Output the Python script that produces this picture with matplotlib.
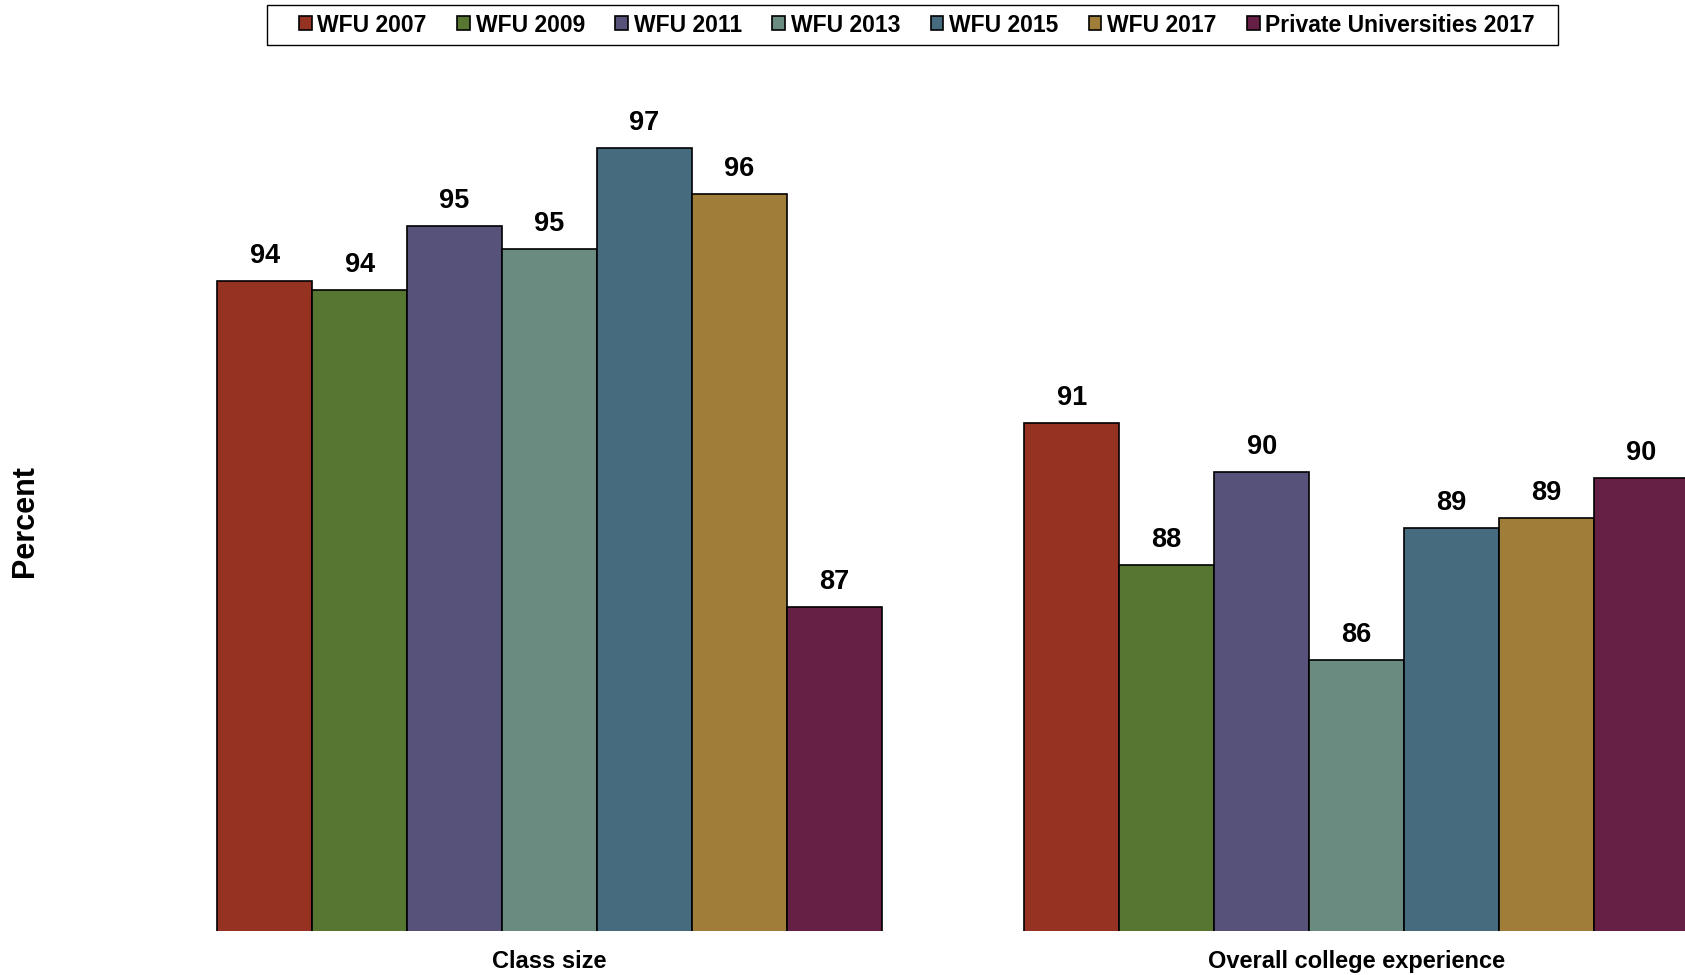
import matplotlib
matplotlib.use('Agg')
import matplotlib.pyplot as plt
from matplotlib.patches import Rectangle
import numpy as np

plt.rcParams['font.family'] = ['Liberation Sans', 'DejaVu Sans']
plt.rcParams['font.weight'] = 'bold'

categories = ['Class size', 'Overall college experience']
series = ['WFU 2007', 'WFU 2009', 'WFU 2011', 'WFU 2013', 'WFU 2015',
          'WFU 2017', 'Private Universities 2017']
colors = ['#963222', '#577632', '#57527A', '#6A8B7F', '#466A7E',
          '#A07E3A', '#662045']

# percent per series: [class size, overall college experience]
wfu_2007 = [94.07, 91.0]
wfu_2009 = [93.88, 87.93]
wfu_2011 = [95.26, 89.93]
wfu_2013 = [94.77, 85.86]
wfu_2015 = [96.95, 88.72]
wfu_2017 = [95.95, 88.93]
private_2017 = [87.02, 89.81]
values = [wfu_2007, wfu_2009, wfu_2011, wfu_2013, wfu_2015, wfu_2017, private_2017]

W, H = 1685, 975
fig = plt.figure(figsize=(W / 100, H / 100), dpi=100)
ax = fig.add_axes([0.0866, 0.0451, 0.958, 0.9477])

x = np.arange(len(categories))
n = len(series)
width = 1 / (n + 1.5)  # Excel style gap width of 150%

for i, (name, vals, c) in enumerate(zip(series, values, colors)):
    offset = (i - (n - 1) / 2) * width
    rects = ax.bar(x + offset, vals, width, bottom=0, color=c,
                   edgecolor='black', linewidth=1.2, label=name)
    for rect, v in zip(rects, vals):
        ax.annotate('{:.0f}'.format(v),
                    xy=(rect.get_x() + rect.get_width() / 2, rect.get_height()),
                    xytext=(0, 13), textcoords='offset points',
                    ha='center', va='baseline', fontsize=19.5, fontweight='bold')

ax.set_xlim(-0.5, 1.5)
ax.set_ylim(80, 100)
ax.set_xticks(x)
ax.set_xticklabels(categories, fontsize=17, fontweight='bold')
ax.tick_params(axis='x', length=0, pad=13.5)
ax.set_yticks([])
for s in ax.spines.values():
    s.set_visible(False)

fig.text(25 / W, 1 - 521 / H, 'Percent', rotation=90, ha='center',
         va='center', fontsize=22, fontweight='bold')

# legend entries without frame, box drawn separately (wider padding at sides)
leg = fig.legend(loc='center', bbox_to_anchor=(917 / W, 1 - 25 / H),
                 ncol=n, fontsize=16.5, frameon=False,
                 handlelength=0.55, handleheight=0.55, handletextpad=0.25,
                 columnspacing=1.33, borderpad=0.4, borderaxespad=0)
for t in leg.get_texts():
    t.set_fontweight('bold')
fig.patches.append(Rectangle((266.5 / W, 1 - 45 / H), (1558 - 266.5) / W, 39.6 / H,
                             transform=fig.transFigure, fill=False,
                             edgecolor='black', linewidth=1.0))

fig.savefig('out.png', dpi=100)
